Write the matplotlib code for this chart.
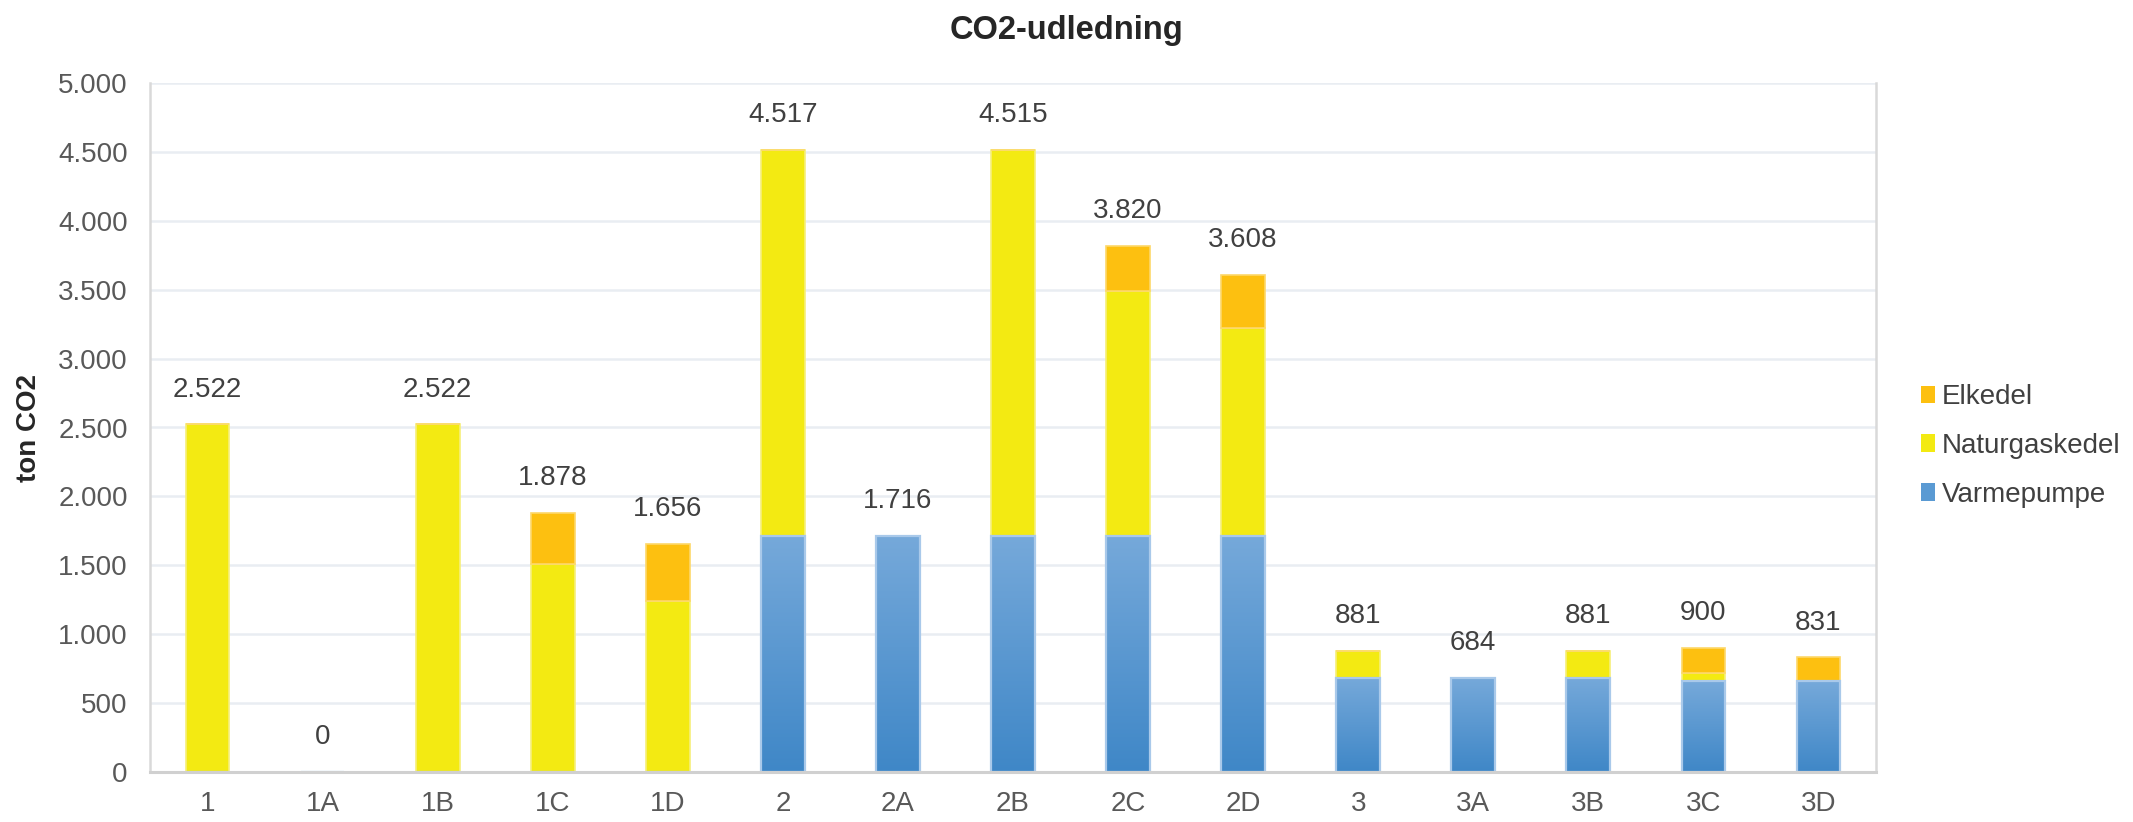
import matplotlib
matplotlib.use("Agg")
import matplotlib.pyplot as plt
import numpy as np
from matplotlib.colors import LinearSegmentedColormap
from matplotlib.patches import Patch

plt.rcParams['font.family'] = ['Liberation Sans', 'DejaVu Sans']

# Scenario data (ton CO2)
categories = ['1', '1A', '1B', '1C', '1D', '2', '2A', '2B', '2C', '2D',
              '3', '3A', '3B', '3C', '3D']
varmepumpe = [0, 0, 0, 0, 0, 1716, 1716, 1716, 1716, 1716, 684, 684, 684, 660, 660]
naturgaskedel = [2522, 0, 2522, 1510, 1240, 2801, 0, 2799, 1776, 1507, 197, 0, 197, 60, 0]
elkedel = [0, 0, 0, 368, 416, 0, 0, 0, 328, 385, 0, 0, 0, 180, 171]
y_ticks = [0, 500, 1000, 1500, 2000, 2500, 3000, 3500, 4000, 4500, 5000]

BLUE_TOP = '#76A9DA'
BLUE_BOTTOM = '#3F87C7'
BLUE_EDGE = '#A9C9EA'
YELLOW = '#F3EA12'
YELLOW_EDGE = '#F6EF7A'
ORANGE = '#FDC010'
ORANGE_EDGE = '#FDD86A'


def fmt_dk(v):
    return f"{int(round(v)):,}".replace(",", ".")


fig = plt.figure(figsize=(21.33, 8.22), dpi=100)
ax = fig.add_axes([150 / 2133, 1 - 772 / 822, 1726 / 2133, (772 - 83) / 822])

x = np.arange(len(categories))
w = 0.38
vp = np.array(varmepumpe, dtype=float)
ng = np.array(naturgaskedel, dtype=float)
ek = np.array(elkedel, dtype=float)

# Heat pump bars: outline only, filled with a vertical gradient below
vp_bars = ax.bar(x, vp, w, facecolor='none', edgecolor=BLUE_EDGE,
                 linewidth=1.6, zorder=3)
cmap = LinearSegmentedColormap.from_list('vp', [BLUE_BOTTOM, BLUE_TOP])
grad = np.linspace(0, 1, 256).reshape(-1, 1)
for rect in vp_bars:
    h = rect.get_height()
    if h <= 0:
        continue
    x0, bw = rect.get_x(), rect.get_width()
    im = ax.imshow(grad, extent=(x0, x0 + bw, 0, h), origin='lower',
                   aspect='auto', cmap=cmap, interpolation='bicubic', zorder=2)
    im.set_clip_path(rect)

ax.bar(x, ng, w, bottom=vp, color=YELLOW, edgecolor=YELLOW_EDGE,
       linewidth=1.2, zorder=2)
ax.bar(x, ek, w, bottom=vp + ng, color=ORANGE, edgecolor=ORANGE_EDGE,
       linewidth=1.2, zorder=2)

# Total labels above each stack
totals = vp + ng + ek
for xi, t in zip(x, totals):
    ax.annotate(fmt_dk(t), xy=(xi, t), xytext=(0, 25), textcoords='offset points',
                ha='center', va='center', fontsize=20, color='#404040')

ax.set_xlim(-0.5, len(categories) - 0.5)
ax.set_ylim(0, 5000)
ax.set_yticks(y_ticks)
ax.set_yticklabels([fmt_dk(v) for v in y_ticks])
ax.set_xticks(x)
ax.set_xticklabels(categories)
ax.tick_params(axis='y', length=0, pad=16, labelsize=20, labelcolor='#595959')
ax.tick_params(axis='x', length=0, pad=14, labelsize=20, labelcolor='#595959')

ax.grid(axis='y', color='#E9EDF2', linewidth=1.8, zorder=0)
ax.set_axisbelow(True)
ax.spines['top'].set_visible(False)
for side in ('left', 'right'):
    ax.spines[side].set_color('#D9D9D9')
    ax.spines[side].set_linewidth(1.8)
ax.spines['bottom'].set_color('#D0D0D0')
ax.spines['bottom'].set_linewidth(2.2)
ax.spines['bottom'].set_zorder(4)

ax.set_ylabel('ton CO2', fontsize=20, fontweight='bold', color='#262626')
ax.yaxis.set_label_coords(-108 / 1726, 0.5)

fig.text(0.5, 1 - 30 / 822, 'CO2-udledning', ha='center', va='center',
         fontsize=23.5, fontweight='bold', color='#262626')

handles = [Patch(facecolor=ORANGE, edgecolor='none'),
           Patch(facecolor=YELLOW, edgecolor='none'),
           Patch(facecolor='#5A9AD3', edgecolor='none')]
fig.legend(handles, ['Elkedel', 'Naturgaskedel', 'Varmepumpe'],
           loc='center left', bbox_to_anchor=(1921 / 2133, 1 - 446 / 822),
           frameon=False, fontsize=20, handlelength=0.5, handleheight=0.6,
           handletextpad=0.25, labelspacing=0.82, borderpad=0,
           borderaxespad=0, labelcolor='#404040')

fig.savefig('out.png', dpi=100)
